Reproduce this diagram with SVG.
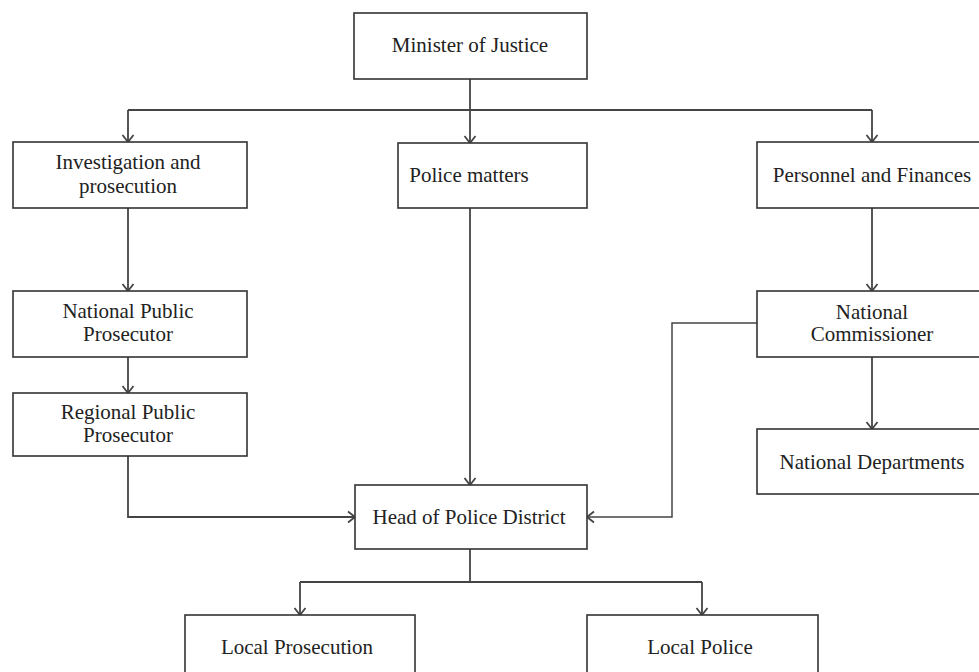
<svg xmlns="http://www.w3.org/2000/svg" width="979" height="672" viewBox="0 0 979 672">
  <style>
    .box rect { fill: #ffffff; stroke: #333333; stroke-width: 1.6; }
    .box text { font-family: "Liberation Serif", "Times New Roman", serif; font-size: 21px; fill: #222222; text-anchor: middle; }
    .conn path { fill: none; stroke: #444444; stroke-width: 1.8; }
    .conn path.thin { stroke-width: 1.5; }
  </style>
  <defs>
    <marker id="arrow" markerUnits="userSpaceOnUse" markerWidth="16" markerHeight="16" viewBox="-10 -8 12 16" refX="0" refY="0" orient="auto">
      <path d="M-7,-5.5 L0,0 L-7,5.5" fill="none" stroke="#444444" stroke-width="1.8"/>
    </marker>
  </defs>

  <rect width="979" height="672" fill="#ffffff"/>

  <!-- connectors -->
  <g id="connectors" class="conn">
    <path d="M470,79 V110"/>
    <path d="M128,110 H872"/>
    <path d="M128,110 V142" marker-end="url(#arrow)"/>
    <path d="M470,110 V143" marker-end="url(#arrow)"/>
    <path d="M872,110 V142" marker-end="url(#arrow)"/>
    <path d="M128,208 V291" marker-end="url(#arrow)"/>
    <path d="M128,357 V393" marker-end="url(#arrow)"/>
    <path d="M128,456 V517 H355" marker-end="url(#arrow)"/>
    <path d="M470,208 V485" marker-end="url(#arrow)"/>
    <path d="M872,208 V291" marker-end="url(#arrow)"/>
    <path d="M872,357 V429" marker-end="url(#arrow)"/>
    <path class="thin" d="M757,323 H672 V517 H587" marker-end="url(#arrow)"/>
    <path d="M470,549 V582"/>
    <path d="M300,582 H702"/>
    <path d="M300,582 V615" marker-end="url(#arrow)"/>
    <path d="M702,582 V615" marker-end="url(#arrow)"/>
  </g>

  <!-- nodes -->
  <g id="minister" class="box">
    <rect x="354" y="13" width="233" height="66"/>
    <text x="470" y="52">Minister of Justice</text>
  </g>
  <g id="investigation" class="box">
    <rect x="13" y="142" width="234" height="66"/>
    <text x="128" y="169">Investigation and</text>
    <text x="128" y="193">prosecution</text>
  </g>
  <g id="police-matters" class="box">
    <rect x="398" y="143" width="189" height="65"/>
    <text x="469" y="182">Police matters</text>
  </g>
  <g id="personnel" class="box">
    <rect x="757" y="142" width="230" height="66"/>
    <text x="872" y="182">Personnel and Finances</text>
  </g>
  <g id="national-prosecutor" class="box">
    <rect x="13" y="291" width="234" height="66"/>
    <text x="128" y="318">National Public</text>
    <text x="128" y="341">Prosecutor</text>
  </g>
  <g id="regional-prosecutor" class="box">
    <rect x="13" y="393" width="234" height="63"/>
    <text x="128" y="419">Regional Public</text>
    <text x="128" y="442">Prosecutor</text>
  </g>
  <g id="national-commissioner" class="box">
    <rect x="757" y="291" width="230" height="66"/>
    <text x="872" y="319">National</text>
    <text x="872" y="341">Commissioner</text>
  </g>
  <g id="national-departments" class="box">
    <rect x="757" y="429" width="230" height="65"/>
    <text x="872" y="469">National Departments</text>
  </g>
  <g id="head-police-district" class="box">
    <rect x="355" y="485" width="232" height="64"/>
    <text x="469" y="524">Head of Police District</text>
  </g>
  <g id="local-prosecution" class="box">
    <rect x="185" y="615" width="230" height="80"/>
    <text x="297" y="654">Local Prosecution</text>
  </g>
  <g id="local-police" class="box">
    <rect x="587" y="615" width="231" height="80"/>
    <text x="700" y="654">Local Police</text>
  </g>
</svg>
